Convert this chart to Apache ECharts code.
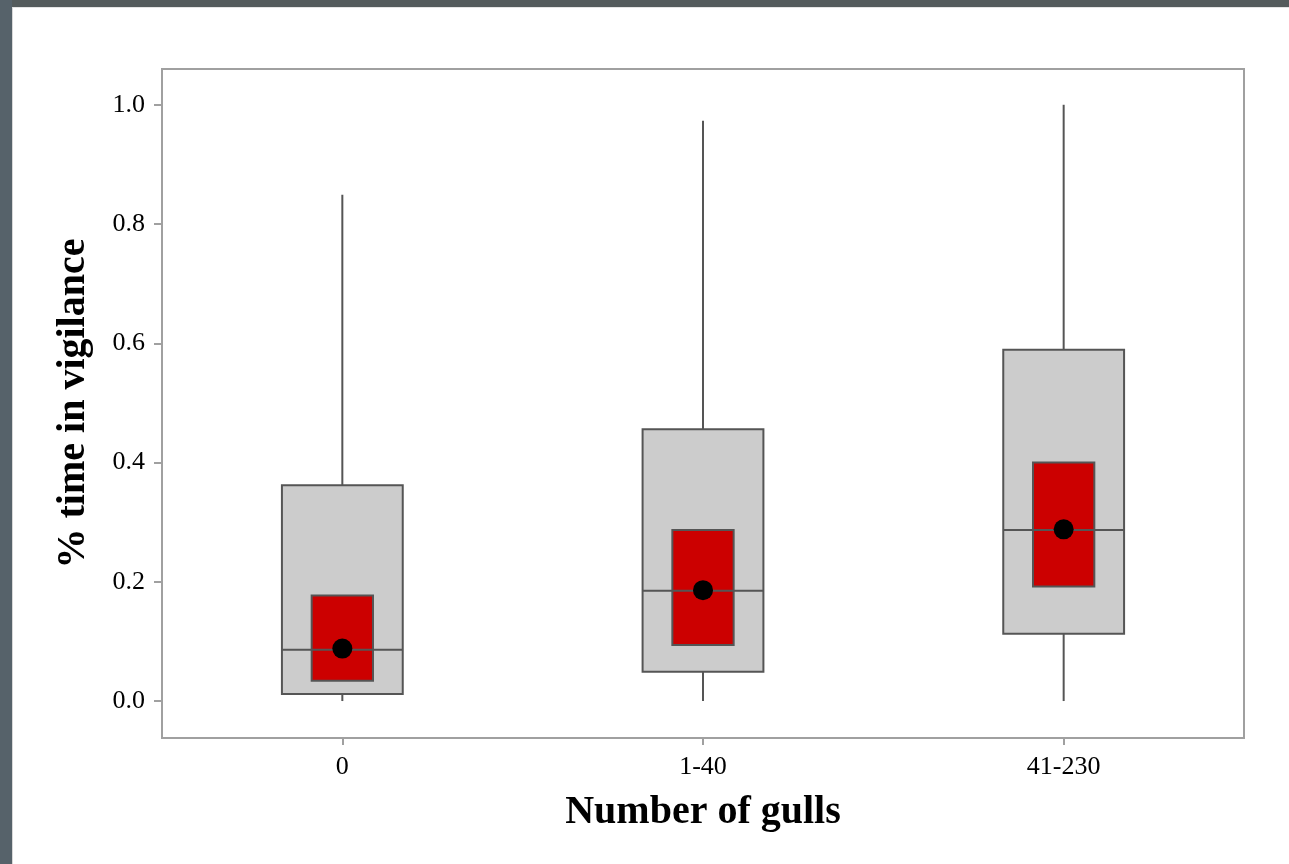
<!DOCTYPE html>
<html>
<head>
<meta charset="utf-8">
<script src="https://cdn.jsdelivr.net/npm/echarts@6/dist/echarts.min.js"></script>
<style>
  html, body { margin: 0; padding: 0; width: 1289px; height: 864px; overflow: hidden; background: #545b5c; }
  #leftStrip { position: absolute; left: 0; top: 0; width: 12px; height: 864px; background: #56626a; }
  #paper { position: absolute; left: 12px; top: 7px; right: 0; bottom: 0; background: #ffffff; border-left: 1px solid #d8d8d8; border-top: 1px solid #e4e4e4; }
  #chart { position: absolute; left: 0; top: 0; width: 1289px; height: 864px; }
</style>
</head>
<body>
<div id="leftStrip"></div>
<div id="paper"></div>
<div id="chart"></div>
<script>
// ---- Data ----
const categories = ['0', '1-40', '41-230'];
const whiskerLow  = [0.000, 0.000, 0.000];
const boxLow      = [0.012, 0.049, 0.113];
const median      = [0.086, 0.185, 0.287];
const boxHigh     = [0.362, 0.456, 0.589];
const whiskerHigh = [0.849, 0.973, 1.000];
const redLow      = [0.034, 0.094, 0.192];
const redHigh     = [0.177, 0.287, 0.400];
const meanValue   = [0.088, 0.186, 0.288];
const yTickValues = [0, 0.2, 0.4, 0.6, 0.8, 1.0];
const yTickLabels = ['0.0', '0.2', '0.4', '0.6', '0.8', '1.0'];

const seriesData = categories.map((c, i) => [i, whiskerLow[i], boxLow[i], median[i], boxHigh[i], whiskerHigh[i], redLow[i], redHigh[i], meanValue[i]]);

const FONT = "'Liberation Serif', 'DejaVu Serif', serif";
const STROKE = '#555555';

function renderItem(params, api) {
  const idx = api.value(0);
  const band = api.size([1, 0])[0];
  const pWL = api.coord([idx, api.value(1)]);
  const pBL = api.coord([idx, api.value(2)]);
  const pMed = api.coord([idx, api.value(3)]);
  const pBH = api.coord([idx, api.value(4)]);
  const pWH = api.coord([idx, api.value(5)]);
  const pRL = api.coord([idx, api.value(6)]);
  const pRH = api.coord([idx, api.value(7)]);
  const pMean = api.coord([idx, api.value(8)]);
  const cx = pMed[0];
  const outerW = band * 0.335;
  const redW = band * 0.17;
  return {
    type: 'group',
    children: [
      { type: 'line', shape: { x1: cx, y1: pWL[1], x2: cx, y2: pBL[1] }, style: { stroke: STROKE, lineWidth: 2 } },
      { type: 'line', shape: { x1: cx, y1: pBH[1], x2: cx, y2: pWH[1] }, style: { stroke: STROKE, lineWidth: 2 } },
      { type: 'rect', shape: { x: cx - outerW / 2, y: pBH[1], width: outerW, height: pBL[1] - pBH[1] }, style: { fill: '#cccccc', stroke: STROKE, lineWidth: 2 } },
      { type: 'rect', shape: { x: cx - redW / 2, y: pRH[1], width: redW, height: pRL[1] - pRH[1] }, style: { fill: '#cc0000', stroke: STROKE, lineWidth: 2 } },
      { type: 'line', shape: { x1: cx - outerW / 2, y1: pMed[1], x2: cx + outerW / 2, y2: pMed[1] }, style: { stroke: STROKE, lineWidth: 2 } },
      { type: 'circle', shape: { cx: pMean[0], cy: pMean[1], r: 10 }, style: { fill: '#000000' } }
    ]
  };
}

const chart = echarts.init(document.getElementById('chart'), null, { renderer: 'canvas' });
chart.setOption({
  backgroundColor: 'transparent',
  animation: false,
  grid: { left: 162, top: 69, width: 1082, height: 669, show: true, borderColor: '#a0a0a0', borderWidth: 2, backgroundColor: 'transparent' },
  xAxis: {
    type: 'category',
    data: categories,
    boundaryGap: true,
    axisLine: { show: false, onZero: false },
    axisTick: { show: true, alignWithLabel: true, length: 7, lineStyle: { color: '#a0a0a0', width: 2 } },
    axisLabel: { color: '#000', fontFamily: FONT, fontSize: 26, margin: 16 },
    splitLine: { show: false },
    name: 'Number of gulls',
    nameLocation: 'middle',
    nameGap: 55,
    nameTextStyle: { color: '#000', fontFamily: FONT, fontSize: 40, fontWeight: 'bold' }
  },
  yAxis: {
    type: 'value',
    min: -0.062,
    max: 1.06,
    axisLine: { show: false, onZero: false },
    axisTick: { show: true, length: 8, customValues: yTickValues, lineStyle: { color: '#a0a0a0', width: 2 } },
    axisLabel: {
      color: '#000', fontFamily: FONT, fontSize: 26, margin: 17,
      customValues: yTickValues,
      formatter: v => { const k = yTickValues.findIndex(t => Math.abs(t - v) < 1e-9); return k >= 0 ? yTickLabels[k] : ''; }
    },
    splitLine: { show: false },
    name: '% time in vigilance',
    nameLocation: 'middle',
    nameGap: 68,
    nameTextStyle: { color: '#000', fontFamily: FONT, fontSize: 40, fontWeight: 'bold' }
  },
  series: [{
    type: 'custom',
    renderItem: renderItem,
    encode: { x: 0, y: [1, 2, 3, 4, 5, 6, 7, 8] },
    data: seriesData,
    clip: false
  }]
});
</script>
</body>
</html>
